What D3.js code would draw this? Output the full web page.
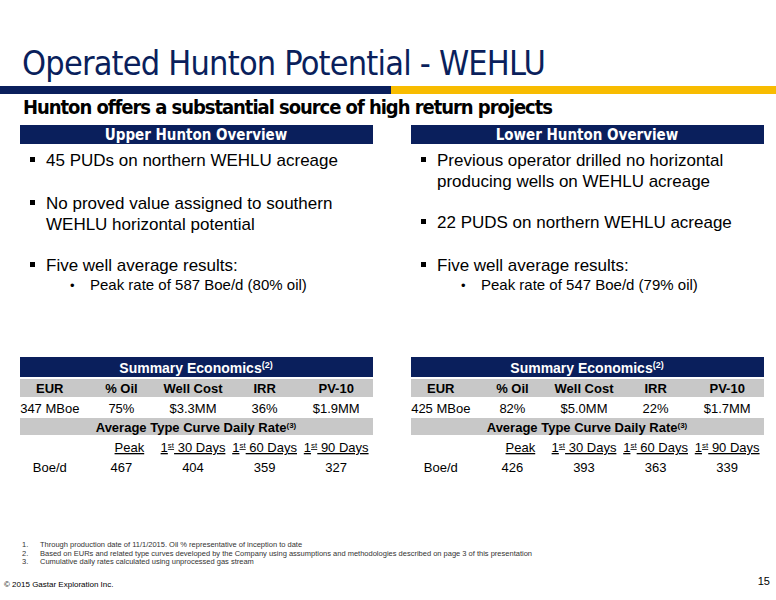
<!DOCTYPE html>
<html><head><meta charset="utf-8">
<script src="https://cdn.jsdelivr.net/npm/d3@7"></script>
<style>body{margin:0;background:#fff}</style>
</head><body>
<script>
var navy = "#0a1f5c", gold = "#f8bc00", gray = "#c8c8c8";
var font = "'Liberation Sans', Arial, sans-serif";
var narrow = "'Liberation Sans Narrow', 'DejaVu Sans Condensed', 'Liberation Sans', sans-serif";

var panels = ["Upper Hunton Overview", "Lower Hunton Overview"];
var upperBullets = [["45 PUDs on northern WEHLU acreage"], ["No proved value assigned to southern", "WEHLU horizontal potential"], ["Five well average results:"]];
var lowerBullets = [["Previous operator drilled no horizontal", "producing wells on WEHLU acreage"], ["22 PUDS on northern WEHLU acreage"], ["Five well average results:"]];
var upperSub = "Peak rate of 587 Boe/d (80% oil)";
var lowerSub = "Peak rate of 547 Boe/d (79% oil)";
var econHeaders = ["EUR", "% Oil", "Well Cost", "IRR", "PV-10"];
var econUpper = ["347 MBoe", "75%", "$3.3MM", "36%", "$1.9MM"];
var econLower = ["425 MBoe", "82%", "$5.0MM", "22%", "$1.7MM"];
var rateHeaders = ["", "Peak", "30 Days", "60 Days", "90 Days"];
var rateUpper = ["Boe/d", 467, 404, 359, 327];
var rateLower = ["Boe/d", 426, 393, 363, 339];
var footnotes = ["Through production date of 11/1/2015. Oil % representative of inception to date",
  "Based on EURs and related type curves developed by the Company using assumptions and methodologies described on page 3 of this presentation",
  "Cumulative daily rates calculated using unprocessed gas stream"];

var svg = d3.select("body").append("svg").attr("width", 776).attr("height", 600)
  .style("font-family", font);

svg.append("text").attr("x", 22).attr("y", 75).attr("fill", navy)
  .style("font-size", "34px").style("font-family", narrow).attr("textLength", 524)
  .text("Operated Hunton Potential - WEHLU");
svg.append("rect").attr("x", 0).attr("y", 86).attr("width", 391).attr("height", 8).attr("fill", navy);
svg.append("rect").attr("x", 391).attr("y", 86).attr("width", 385).attr("height", 8).attr("fill", gold);
svg.append("text").attr("x", 23).attr("y", 114).style("font-size", "20px").style("font-weight", "bold")
  .style("font-family", narrow).attr("textLength", 530)
  .text("Hunton offers a substantial source of high return projects");

function panel(x0, title, bullets, bulletYs, sub, econ, rate) {
  var g = svg.append("g").attr("transform", "translate(" + x0 + ",0)");
  g.append("rect").attr("x", 0).attr("y", 125).attr("width", 353).attr("height", 19).attr("fill", navy);
  g.append("text").attr("x", 176).attr("y", 140).attr("text-anchor", "middle").attr("fill", "#fff")
    .style("font-size", "15px").style("font-weight", "bold").style("font-family", narrow).text(title);

  bullets.forEach(function(lines, i) {
    g.append("rect").attr("x", 10).attr("y", bulletYs[i] - 9).attr("width", 5).attr("height", 5).attr("fill", "#000");
    lines.forEach(function(l, j) {
      g.append("text").attr("x", 26).attr("y", bulletYs[i] + j * 21).style("font-size", "17px").text(l);
    });
  });
  g.append("text").attr("x", 50).attr("y", 290).style("font-size", "13px").text("\u2022");
  g.append("text").attr("x", 70).attr("y", 290).style("font-size", "15px").text(sub);

  var col = d3.scaleBand().domain(d3.range(5)).range([-6, 352]);
  var cx = function(i) { return col(i) + col.bandwidth() / 2; };

  g.append("rect").attr("x", 0).attr("y", 357).attr("width", 353).attr("height", 20).attr("fill", navy);
  var t = g.append("text").attr("x", 176).attr("y", 373).attr("text-anchor", "middle").attr("fill", "#fff")
    .style("font-size", "14px").style("font-weight", "bold");
  t.append("tspan").text("Summary Economics");
  t.append("tspan").attr("dy", -5).style("font-size", "9px").text("(2)");

  g.append("rect").attr("x", 0).attr("y", 379).attr("width", 353).attr("height", 18).attr("fill", gray);
  g.selectAll(".eh").data(econHeaders).enter().append("text").attr("x", function(d, i) { return cx(i); })
    .attr("y", 393).attr("text-anchor", "middle").style("font-size", "13px").style("font-weight", "bold").text(function(d) { return d; });
  g.selectAll(".ev").data(econ).enter().append("text").attr("x", function(d, i) { return cx(i); })
    .attr("y", 413).attr("text-anchor", "middle").style("font-size", "13px").text(function(d) { return d; });

  g.append("rect").attr("x", 0).attr("y", 418).attr("width", 353).attr("height", 17).attr("fill", gray);
  var t2 = g.append("text").attr("x", 176).attr("y", 432).attr("text-anchor", "middle")
    .style("font-size", "13px").style("font-weight", "bold");
  t2.append("tspan").text("Average Type Curve Daily Rate");
  t2.append("tspan").attr("dy", -4).style("font-size", "8px").text("(3)");

  rateHeaders.forEach(function(h, i) {
    if (!h) return;
    var tt = g.append("text").attr("x", cx(i) + (i == 1 ? 8 : 0)).attr("y", 452).attr("text-anchor", "middle")
      .style("font-size", "13px").style("text-decoration", "underline");
    if (i > 1) {
      tt.append("tspan").text("1");
      tt.append("tspan").attr("dy", -4).style("font-size", "8px").text("st");
      tt.append("tspan").attr("dy", 4).text(" " + h);
    } else tt.text(h);
  });
  g.selectAll(".rv").data(rate).enter().append("text").attr("x", function(d, i) { return cx(i); })
    .attr("y", 472).attr("text-anchor", "middle").style("font-size", "13px").text(function(d) { return d; });
}

panel(20, panels[0], upperBullets, [166, 209, 271], upperSub, econUpper, rateUpper);
panel(411, panels[1], lowerBullets, [166, 228, 271], lowerSub, econLower, rateLower);

footnotes.forEach(function(f, i) {
  svg.append("text").attr("x", 22).attr("y", 547 + i * 8.5).style("font-size", "7.5px").attr("fill", "#333").text((i + 1) + ".");
  svg.append("text").attr("x", 40).attr("y", 547 + i * 8.5).style("font-size", "7.5px").attr("fill", "#333").text(f);
});
svg.append("text").attr("x", 4).attr("y", 587).style("font-size", "8px").text("\u00a9 2015 Gastar Exploration Inc.");
svg.append("text").attr("x", 770).attr("y", 585).attr("text-anchor", "end").style("font-size", "11px").text("15");
</script>
</body></html>
